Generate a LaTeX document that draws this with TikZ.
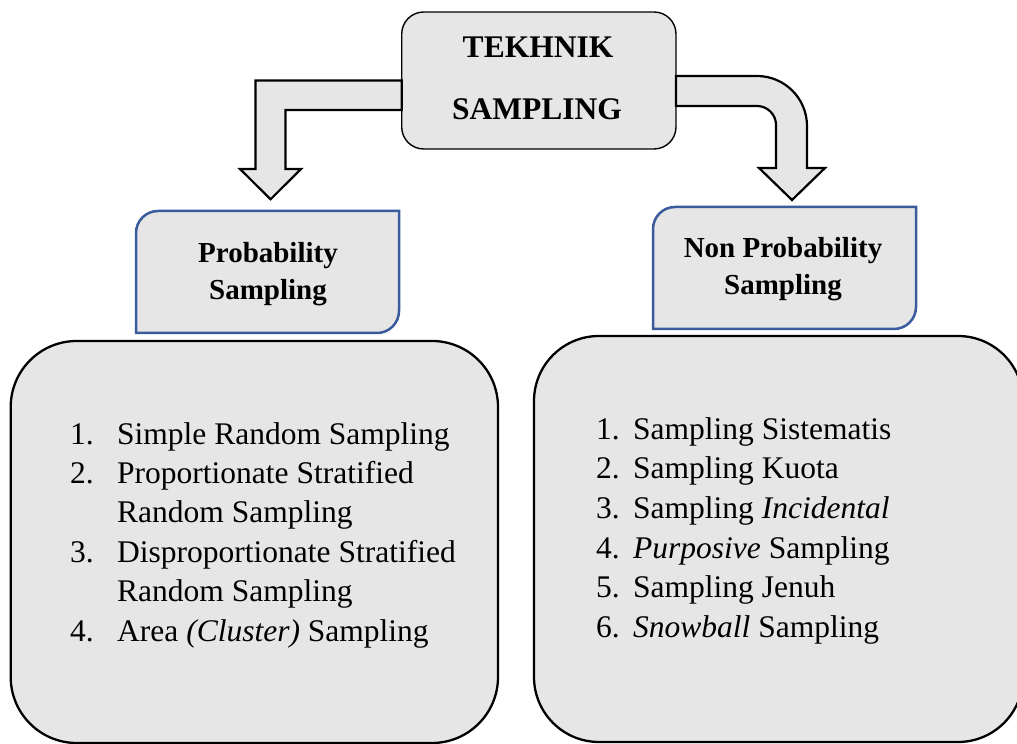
\documentclass[tikz,border=0pt]{standalone}
\usepackage{fontspec}
\setmainfont{Liberation Serif}
\usetikzlibrary{calc}
\definecolor{boxgray}{HTML}{E6E6E6}
\definecolor{boxblue}{HTML}{3A5C9C}
\tikzset{
  headbox/.style={draw=black, line width=1.4pt, fill=boxgray, rounded corners=22pt, inner sep=0pt, outer sep=0pt},
  listbox/.style={draw=black, line width=2.3pt, fill=boxgray, inner sep=0pt, outer sep=0pt},
  holder/.style={inner sep=0pt, outer sep=0pt},
  subbox/.style={draw=boxblue, line width=2.5pt, fill=boxgray},
  fatarrow/.style={draw=black, line width=2.2pt, fill=boxgray, line join=miter},
  headtxt/.style={font=\fontsize{31.5}{37}\selectfont\bfseries, inner sep=0pt, anchor=base},
  subtxt/.style={font=\fontsize{29}{35}\selectfont\bfseries, inner sep=0pt, anchor=base},
  itemtxt/.style={font=\fontsize{31.5}{38}\selectfont, inner sep=0pt, anchor=base west},
}
\begin{document}
\begin{tikzpicture}[x=1pt,y=1pt]
\useasboundingbox (0,0) rectangle (1017,744);
% top box
\node[headbox, minimum width=274.3pt, minimum height=137pt] (top) at (538.85,663.5) {};
\node[headtxt] (topA) at (538,686) {TEKHNIK};
\node[headtxt] (topB) at (537,624) {SAMPLING};
% arrow tips
\coordinate (ltip) at (270.6,544.7);
\coordinate (rtip) at (792,544);
% left arrow
\draw[fatarrow] (top.west) -- (255.5,663.5) -- (255.5,575) -- (240,575) -- (ltip) -- (301,575) -- (285.5,575) -- (285.5,634) -- ($(top.west)+(0,-29.5)$) -- cycle;
% right arrow
\draw[fatarrow] ($(top.east)+(0,4.5)$) -- (757,668) arc[start angle=90,end angle=0,radius=50pt] -- (807,576) -- (825,576) -- (rtip) -- (759,576) -- (776,576) -- (776,619) arc[start angle=0,end angle=90,radius=19pt] -- ($(top.east)+(0,-25.5)$) -- cycle;
% sub boxes
\node[holder, minimum width=263pt, minimum height=122pt] (prob) at (267.5,472) {};
\draw[subbox] (prob.south west) -- ([yshift=-22pt]prob.north west) arc[start angle=180,end angle=90,radius=22pt] -- (prob.north east) -- ([yshift=22pt]prob.south east) arc[start angle=0,end angle=-90,radius=22pt] -- cycle;
\node[subtxt] (probA) at (268,481) {Probability};
\node[subtxt] (probB) at (268,444) {Sampling};
\node[holder, minimum width=263pt, minimum height=122pt] (nonprob) at (784.5,476) {};
\draw[subbox] (nonprob.south west) -- ([yshift=-22pt]nonprob.north west) arc[start angle=180,end angle=90,radius=22pt] -- (nonprob.north east) -- ([yshift=22pt]nonprob.south east) arc[start angle=0,end angle=-90,radius=22pt] -- cycle;
\node[subtxt] (nonprobA) at (783,486) {Non Probability};
\node[subtxt] (nonprobB) at (783,449) {Sampling};
% list boxes
\node[listbox, rounded corners=66pt, minimum width=487.3pt, minimum height=402pt] (leftlist) at (254.35,202) {};
\node[listbox, rounded corners=65pt, minimum width=489pt, minimum height=406pt] (rightlist) at (778.5,205) {};
% left list
\node[itemtxt] (l1n) at (70,299) {1.};
\node[itemtxt] (l1) at (117,299) {Simple Random Sampling};
\node[itemtxt] (l2n) at (70,260) {2.};
\node[itemtxt] (l2) at (117,260) {Proportionate Stratified};
\node[itemtxt] (l2b) at (117,221) {Random Sampling};
\node[itemtxt] (l3n) at (70,181) {3.};
\node[itemtxt] (l3) at (117,181) {Disproportionate Stratified};
\node[itemtxt] (l3b) at (117,142) {Random Sampling};
\node[itemtxt] (l4n) at (70,102) {4.};
\node[itemtxt] (l4) at (117,102) {Area \textit{(Cluster)} Sampling};
% right list
\node[itemtxt] (r1n) at (596,304) {1.};
\node[itemtxt] (r1) at (633,304) {Sampling Sistematis};
\node[itemtxt] (r2n) at (596,265) {2.};
\node[itemtxt] (r2) at (633,265) {Sampling Kuota};
\node[itemtxt] (r3n) at (596,225) {3.};
\node[itemtxt] (r3) at (633,225) {Sampling \textit{Incidental}};
\node[itemtxt] (r4n) at (596,185) {4.};
\node[itemtxt] (r4) at (633,185) {\textit{Purposive} Sampling};
\node[itemtxt] (r5n) at (596,146) {5.};
\node[itemtxt] (r5) at (633,146) {Sampling Jenuh};
\node[itemtxt] (r6n) at (596,106) {6.};
\node[itemtxt] (r6) at (633,106) {\textit{Snowball} Sampling};
\end{tikzpicture}
\end{document}
